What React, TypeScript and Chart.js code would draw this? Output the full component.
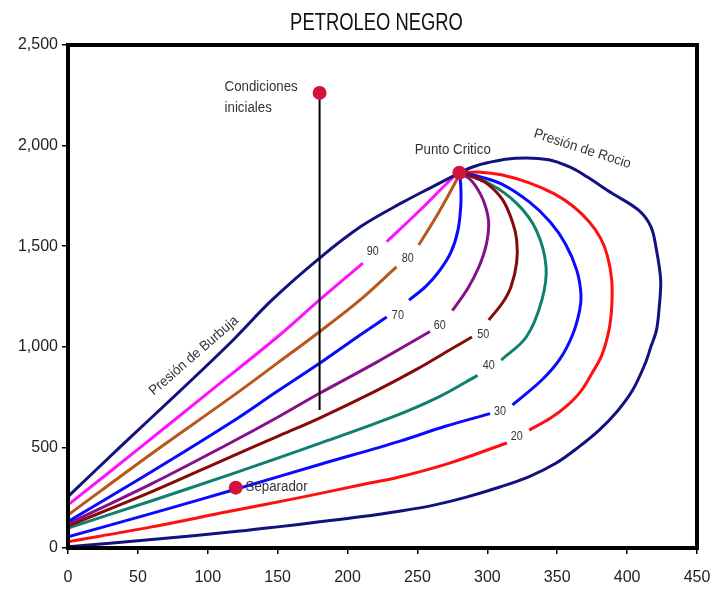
import React, { useEffect, useRef } from "react";
import { Chart, registerables } from "chart.js";

Chart.register(...registerables);

type P = [number, number];

// ---------- DATA ----------
const chartTitle = "PETROLEO NEGRO";
const xTickValues = [0, 50, 100, 150, 200, 250, 300, 350, 400, 450];
const yTickValues = [0, 500, 1000, 1500, 2000, 2500];

// Bubble-point curve (Presión de Burbuja)
const bubbleCurve: P[] = [
  [0, 255], [40, 520], [80, 780], [116, 1019], [146, 1233], [180, 1441],
  [210, 1600], [240, 1720], [262, 1800], [280, 1865],
];

// Dew-point curve (Presión de Rocío)
const dewCurve: P[] = [
  [280, 1865], [290, 1895], [300, 1915], [320, 1937], [344, 1930], [360, 1890],
  [371, 1846], [389, 1764], [408, 1680], [417, 1597], [421, 1481], [424, 1332],
  [423, 1200], [421, 1083], [417, 1000], [413, 918], [404, 785], [393, 680],
  [380, 586], [365, 500], [349, 421], [330, 355], [309, 303], [285, 253],
  [261, 212], [237, 183], [209, 155], [180, 130], [150, 105], [123, 84],
  [60, 42], [0, 6],
];

// Iso-quality lines: lower part (below the label) and upper part (to the critical point)
const q90Low: P[] = [[0, 214], [50, 490], [100, 770], [150, 1050], [180, 1233], [211, 1416]];
const q90High: P[] = [[228, 1522], [252, 1680], [275, 1839], [280, 1865]];

const q80Low: P[] = [[0, 164], [60, 470], [116, 746], [150, 920], [180, 1075], [209, 1233], [235, 1397]];
const q80High: P[] = [[251, 1506], [265, 1665], [278, 1829], [280, 1865]];

const q70Low: P[] = [[0, 131], [60, 380], [116, 621], [150, 780], [180, 918], [209, 1059], [228, 1148]];
const q70High: P[] = [[244, 1232], [256, 1300], [266, 1380], [274, 1470], [279, 1580], [281, 1700], [281, 1800], [280, 1865]];

const q60Low: P[] = [[0, 120], [60, 320], [116, 522], [150, 650], [180, 769], [220, 920], [259, 1076]];
const q60High: P[] = [[275, 1180], [286, 1290], [294, 1398], [299, 1500], [301, 1610], [299, 1690], [295, 1760], [288, 1830], [280, 1865]];

const q50Low: P[] = [[0, 110], [60, 280], [116, 452], [150, 555], [180, 646], [220, 780], [250, 890], [273, 984], [289, 1049]];
const q50High: P[] = [[301, 1133], [311, 1220], [317, 1300], [321, 1420], [321, 1530], [318, 1620], [311, 1730], [300, 1810], [290, 1845], [280, 1865]];

const q40Low: P[] = [[0, 99], [60, 235], [120, 375], [180, 520], [230, 645], [265, 750], [293, 858]];
const q40High: P[] = [[310, 934], [328, 1050], [339, 1232], [342, 1398], [335, 1580], [321, 1713], [301, 1813], [280, 1865]];

const q30Low: P[] = [[0, 56], [60, 172], [120, 292], [180, 415], [237, 530], [270, 605], [302, 668]];
const q30High: P[] = [[318, 711], [339, 835], [352, 940], [361, 1060], [366, 1180], [367, 1260], [364, 1380], [356, 1510], [345, 1620], [330, 1720], [310, 1810], [292, 1850], [280, 1865]];

const q20Low: P[] = [[0, 31], [60, 105], [114, 180], [164, 248], [209, 313], [237, 353], [273, 422], [314, 522]];
const q20High: P[] = [[330, 586], [345, 645], [356, 701], [367, 780], [375, 870], [382, 960], [387, 1083], [389, 1200], [389, 1330], [386, 1450], [381, 1540], [373, 1620], [362, 1695], [348, 1760], [330, 1815], [310, 1855], [295, 1868], [280, 1865]];

const qualityNames = ["90", "80", "70", "60", "50", "40", "30", "20"];
const qualityLow = [q90Low, q80Low, q70Low, q60Low, q50Low, q40Low, q30Low, q20Low];
const qualityHigh = [q90High, q80High, q70High, q60High, q50High, q40High, q30High, q20High];
const qualityLabelAt: P[] = [
  [218, 1473], [243, 1440], [236, 1153], [266, 1103], [297, 1059], [301, 905], [309, 677], [321, 553],
];

// Special points: Punto Crítico, Condiciones iniciales, Separador
const specialPoints: P[] = [[280, 1865], [180, 2262], [120, 300]];
// Isothermal depletion path from initial conditions
const depletionPath: P[] = [[180, 2262], [180, 686]];

// Text annotations (anchor in data units)
const annotationTexts = ["Condiciones", "iniciales", "Punto Critico", "Presión de Rocio", "Presión de Burbuja", "Separador"];
const annotationAt: P[] = [[112, 2291], [112, 2187], [248, 1978], [368, 1983], [90, 955], [127, 303]];

// ---------- STYLES ----------
const NAVY = "#12127e";
const qualityColors = ["#ff10ff", "#b8561c", "#0a0aff", "#86108a", "#860a0a", "#10806c", "#0a0aff", "#ff1010"];
const FONT = '"Liberation Sans", Arial, sans-serif';

const toXY = (arr: P[]) => arr.map(([x, y]) => ({ x, y }));

function lineDataset(arr: P[], color: string, width = 3) {
  return {
    data: toXY(arr),
    showLine: true,
    borderColor: color,
    backgroundColor: color,
    borderWidth: width,
    pointRadius: 0,
    pointHoverRadius: 0,
    tension: 0.35,
    fill: false,
    order: 2,
  };
}

function drawText(
  ctx: CanvasRenderingContext2D, text: string, px: number, py: number,
  size: number, align: CanvasTextAlign, rot = 0, sx = 1, color = "#333"
) {
  ctx.save();
  ctx.translate(px, py);
  ctx.rotate(rot);
  ctx.scale(sx, 1);
  ctx.font = `${size}px ${FONT}`;
  ctx.textAlign = align;
  ctx.textBaseline = "middle";
  ctx.fillStyle = color;
  ctx.fillText(text, 0, 0);
  ctx.restore();
}

const decorPlugin = {
  id: "decor",
  beforeDraw(chart: any) {
    const { ctx } = chart;
    ctx.save();
    ctx.fillStyle = "#ffffff";
    ctx.fillRect(0, 0, chart.width, chart.height);
    ctx.restore();
  },
  afterDraw(chart: any) {
    const { ctx, chartArea } = chart;
    const xs = chart.scales.x;
    const ys = chart.scales.y;
    // frame
    ctx.save();
    ctx.strokeStyle = "#000";
    ctx.lineWidth = 4;
    ctx.strokeRect(chartArea.left, chartArea.top, chartArea.right - chartArea.left, chartArea.bottom - chartArea.top);
    ctx.restore();
    // title
    drawText(ctx, chartTitle, (chartArea.left + chartArea.right) / 2 - 6, 24, 23, "center", 0, 0.8, "#111");
    // quality labels
    qualityNames.forEach((t, i) => {
      const [x, y] = qualityLabelAt[i];
      drawText(ctx, t, xs.getPixelForValue(x), ys.getPixelForValue(y), 12, "center", 0, 0.9, "#333");
    });
    // annotations
    const rots = [0, 0, 0, (18 * Math.PI) / 180, (-41 * Math.PI) / 180, 0];
    const aligns: CanvasTextAlign[] = ["left", "left", "left", "center", "center", "left"];
    annotationTexts.forEach((t, i) => {
      const [x, y] = annotationAt[i];
      drawText(ctx, t, xs.getPixelForValue(x), ys.getPixelForValue(y), 14, aligns[i], rots[i], 0.95, "#333");
    });
  },
};

export default function App() {
  const ref = useRef<HTMLCanvasElement | null>(null);

  useEffect(() => {
    if (!ref.current) return;
    const datasets: any[] = [];
    datasets.push({
      data: toXY(specialPoints),
      showLine: false,
      pointRadius: 7,
      pointHoverRadius: 7,
      backgroundColor: "#d3123e",
      borderColor: "#d3123e",
      borderWidth: 0,
      order: 0,
    });
    datasets.push({ ...lineDataset(depletionPath, "#000", 2), tension: 0, order: 1 });
    datasets.push(lineDataset(bubbleCurve, NAVY));
    datasets.push(lineDataset(dewCurve, NAVY));
    qualityNames.forEach((_, i) => {
      datasets.push(lineDataset(qualityLow[i], qualityColors[i]));
      datasets.push(lineDataset(qualityHigh[i], qualityColors[i]));
    });

    const tickFont = { family: FONT, size: 16 };
    const chart = new Chart(ref.current, {
      type: "scatter",
      data: { datasets },
      options: {
        animation: false,
        responsive: false,
        devicePixelRatio: 1,
        layout: { padding: { left: 0, right: 17, top: 45, bottom: 0 } },
        plugins: { legend: { display: false }, tooltip: { enabled: false }, title: { display: false } },
        scales: {
          x: {
            type: "linear",
            min: 0,
            max: 450,
            afterBuildTicks: (s: any) => { s.ticks = xTickValues.map((v) => ({ value: v })); },
            afterFit: (s: any) => { s.height = 55; s.paddingRight = 0; s.paddingLeft = 0; },
            ticks: { font: tickFont, color: "#222", padding: 14, maxRotation: 0 },
            grid: { drawOnChartArea: false, drawTicks: true, tickLength: 6, color: "#000", lineWidth: 1.5 },
            border: { display: false },
          },
          y: {
            type: "linear",
            min: 0,
            max: 2500,
            afterBuildTicks: (s: any) => { s.ticks = yTickValues.map((v) => ({ value: v })); },
            afterFit: (s: any) => { s.width = 68; s.paddingTop = 0; s.paddingBottom = 0; },
            ticks: { font: tickFont, color: "#222", padding: 4 },
            grid: { drawOnChartArea: false, drawTicks: true, tickLength: 6, color: "#000", lineWidth: 1.5 },
            border: { display: false },
          },
        },
      },
      plugins: [decorPlugin],
    } as any);
    return () => chart.destroy();
  }, []);

  return (
    <div style={{ position: "absolute", left: 0, top: 0, width: 714, height: 603, background: "#fff" }}>
      <canvas ref={ref} width={714} height={603} style={{ display: "block" }} />
    </div>
  );
}
